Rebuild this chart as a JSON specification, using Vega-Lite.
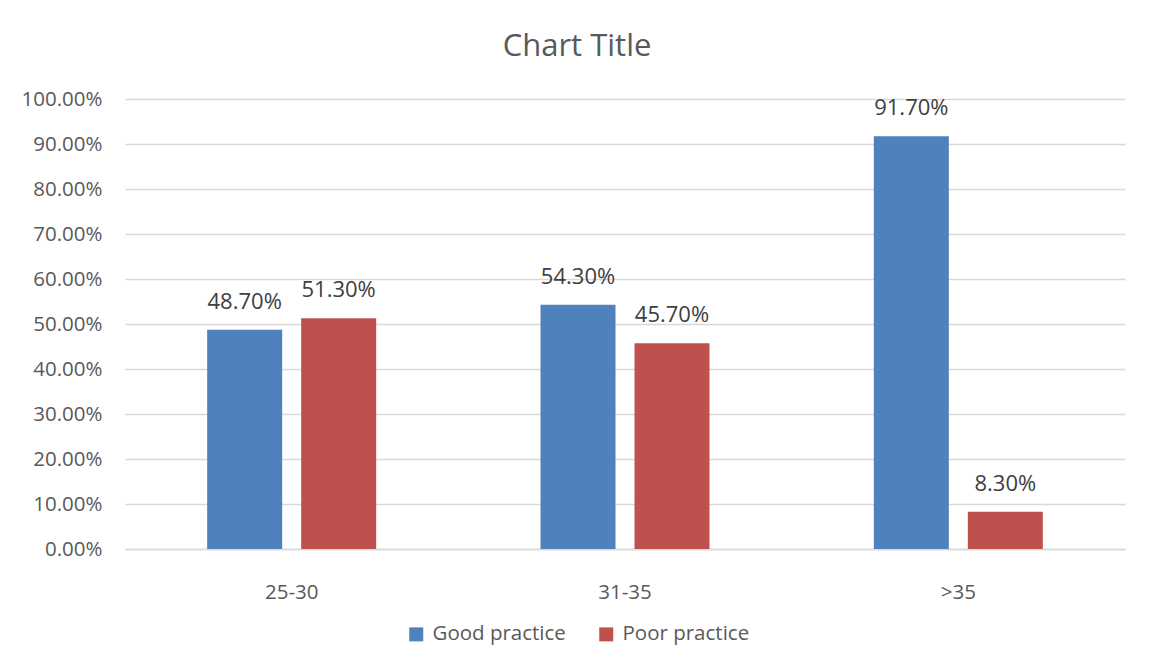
{
  "$schema": "https://vega.github.io/schema/vega-lite/v6.json",
  "width": 1000,
  "height": 450,
  "autosize": {"type": "none"},
  "padding": {"left": 125, "top": 99, "right": 27, "bottom": 122},
  "background": "white",
  "title": {"text": "Chart Title", "anchor": "middle", "offset": 26, "dx": -48, "fontSize": 31, "font": "Open Sans", "fontWeight": "normal", "color": "#595959"},
  "config": {"view": {"stroke": null}, "font": "Open Sans"},
  "data": {"values": [
    {"age": "25-30", "practice": "Good practice", "value": 0.487},
    {"age": "25-30", "practice": "Poor practice", "value": 0.513},
    {"age": "31-35", "practice": "Good practice", "value": 0.543},
    {"age": "31-35", "practice": "Poor practice", "value": 0.457},
    {"age": ">35", "practice": "Good practice", "value": 0.917},
    {"age": ">35", "practice": "Poor practice", "value": 0.083}
  ]},
  "encoding": {
    "x": {"field": "age", "type": "nominal", "sort": ["25-30", "31-35", ">35"],
      "scale": {"paddingInner": 0.493, "paddingOuter": 0.2465},
      "axis": {"title": null, "labelAngle": 0, "labelFontSize": 20.5, "labelColor": "#595959", "labelPadding": 33, "ticks": false, "domainColor": "#D9D9D9", "domainWidth": 1.5}},
    "xOffset": {"field": "practice", "type": "nominal", "scale": {"paddingInner": 0.202, "paddingOuter": 0}},
    "y": {"field": "value", "type": "quantitative",
      "scale": {"domain": [0, 1], "nice": false},
      "axis": {"title": null, "format": ".2%", "values": [0, 0.1, 0.2, 0.3, 0.4, 0.5, 0.6, 0.7, 0.8, 0.9, 1.0], "labelFontSize": 20.5, "labelColor": "#595959", "labelPadding": 23, "ticks": false, "domain": false, "gridColor": "#D9D9D9", "gridWidth": 1.3}}
  },
  "layer": [
    {"mark": {"type": "bar"},
     "encoding": {"color": {"field": "practice", "type": "nominal",
        "scale": {"domain": ["Good practice", "Poor practice"], "range": ["#4F81BD", "#C0504D"]},
        "legend": {"title": null, "orient": "none", "direction": "horizontal", "legendX": 281, "legendY": 525, "symbolType": "square", "symbolSize": 196, "symbolStrokeWidth": 0, "labelFontSize": 20.5, "labelColor": "#595959", "columnPadding": 30, "labelOffset": 6}}}},
    {"mark": {"type": "text", "baseline": "middle", "dy": -28, "fontSize": 22, "color": "#404040"},
     "encoding": {"text": {"field": "value", "type": "quantitative", "format": ".2%"}}}
  ]
}
